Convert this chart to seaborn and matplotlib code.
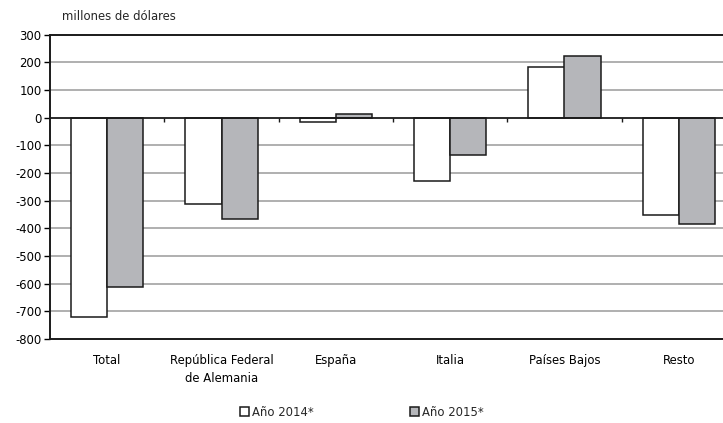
import matplotlib
matplotlib.use("Agg")
import matplotlib.pyplot as plt
import seaborn as sns
import pandas as pd
import numpy as np

categories = ["Total", "República Federal\nde Alemania", "España", "Italia", "Países Bajos", "Resto"]
series_names = ["Año 2014*", "Año 2015*"]
values_2014 = [-720, -311, -17, -228, 182, -352]
values_2015 = [-613, -368, 14, -134, 222, -385]
y_ticks = [300, 200, 100, 0, -100, -200, -300, -400, -500, -600, -700, -800]

df = pd.DataFrame({
    "cat": categories * 2,
    "serie": [series_names[0]] * len(categories) + [series_names[1]] * len(categories),
    "valor": values_2014 + values_2015,
})

sns.set_theme(style="white")
plt.rcParams["font.family"] = ["DejaVu Sans"]
FS = 8.4
plt.rcParams["font.size"] = FS

fig = plt.figure(figsize=(7.23, 4.23), dpi=100)
ax = fig.add_axes([50 / 723, 1 - 339 / 423, 686 / 723, (339 - 34.5) / 423])

sns.barplot(data=df, x="cat", y="valor", hue="serie", order=categories,
            hue_order=series_names, palette=["#ffffff", "#b5b6ba"],
            width=0.63, edgecolor="#1a1a1a", linewidth=1.1, saturation=1,
            ax=ax, zorder=3, legend=True)

ax.set_ylim(-800, 300)
ax.set_xlim(-0.5, len(categories) - 0.5)
ax.set_yticks(y_ticks)
ax.set_yticklabels([str(t) for t in y_ticks], fontsize=FS, color="black")
ax.set_xticks(range(len(categories)))
ax.set_xticklabels(categories, fontsize=FS, color="black", linespacing=1.45)
ax.tick_params(axis="x", length=0, pad=11)
ax.tick_params(axis="y", length=4, width=1, color="black", direction="out", left=True, pad=2)
ax.set_xlabel("")
ax.set_ylabel("")

for t in y_ticks:
    if t in (300, -800, 0):
        continue
    ax.axhline(t, color="#9a9a9a", linewidth=1.1, zorder=1)
ax.axhline(0, color="#1a1a1a", linewidth=1.3, zorder=4)
ax.vlines(np.arange(len(categories) - 1) + 0.5, -16, 0, color="#1a1a1a", linewidth=1, zorder=4)

for side in ["left", "bottom", "top"]:
    ax.spines[side].set_visible(True)
    ax.spines[side].set_color("#1a1a1a")
    ax.spines[side].set_linewidth(1.4)
ax.spines["right"].set_visible(False)

fig.text(62 / 723, 1 - 17 / 423, "millones de dólares", fontsize=FS, va="center", ha="left")

handles, labels = ax.get_legend_handles_labels()
ax.get_legend().remove()
leg = fig.legend(handles, labels, loc="center", bbox_to_anchor=(362 / 723, 1 - 412 / 423),
                 ncol=2, frameon=False, fontsize=FS, handlelength=0.75, handleheight=0.75,
                 handletextpad=0.3, columnspacing=8.2)

fig.savefig("out.png", dpi=100)
